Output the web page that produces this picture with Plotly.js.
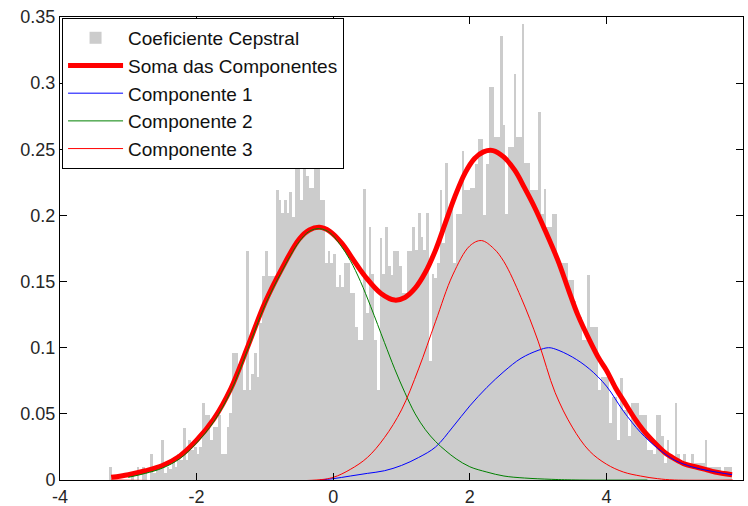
<!DOCTYPE html>
<html>
<head>
<meta charset="utf-8">
<script src="https://cdn.plot.ly/plotly-3.0.1.min.js"></script>
<style>html,body{margin:0;padding:0;background:#fff;}#chart{width:748px;height:506px;}</style>
</head>
<body>
<div id="chart"></div>
<script>
// Histogram: bins of width 0.04 starting at -3.28
const binStart = -3.28;
const binWidth = 0.04;
const histValues = [
  0.010,0,0,0,0,0,0,0,0.005,0,
  0.010,0,0.010,0.005,0,0.020,0.005,0.010,0.010,0.030,
  0.005,0.010,0.008,0.015,0.010,0.020,0.015,0.039,0.015,0.030,
  0.023,0.025,0.020,0.025,0.058,0.049,0.049,0.030,0.040,0.040,
  0.049,0.020,0.020,0.040,0.051,0.096,0.096,0.088,0.088,0.068,
  0.173,0.068,0.080,0.096,0.078,0.119,0.154,0.173,0.154,0.154,
  0.154,0.219,0.212,0.202,0.212,0.202,0.218,0.199,0.240,0.255,
  0.212,0.262,0.230,0.221,0.221,0.250,0.270,0.212,0.212,0.164,
  0.173,0.164,0.171,0.146,0.155,0.146,0.164,0.164,0.141,0.141,
  0.116,0.106,0.106,0.220,0.126,0.191,0.156,0.106,0.068,0.183,
  0.156,0.191,0.162,0.155,0.173,0.173,0.162,0.141,0.141,0.173,
  0.173,0.191,0.174,0.202,0.184,0.174,0.202,0.090,0.156,0.153,
  0.164,0.219,0.179,0.240,0.204,0.207,0.164,0.201,0.201,0.249,
  0.219,0.219,0.221,0.221,0.239,0.258,0.258,0.200,0.239,0.297,
  0.297,0.259,0.259,0.336,0.268,0.201,0.252,0.252,0.307,0.259,
  0.259,0.345,0.240,0.240,0.219,0.219,0.219,0.278,0.201,0.220,
  0.191,0.191,0.201,0.201,0.164,0.164,0.164,0.164,0.151,0.151,
  0.135,0.123,0.123,0.106,0.106,0.155,0.116,0.116,0.116,0.068,
  0.078,0.078,0.078,0.043,0.063,0.063,0.030,0.077,0.053,0.053,
  0.033,0.058,0.058,0.058,0.049,0.049,0.049,0.023,0.023,0.020,
  0.049,0.049,0.033,0.013,0.030,0.018,0.018,0.058,0.020,0.013,
  0.020,0.013,0.010,0.020,0.013,0.013,0.013,0.013,0.030,0.010,
  0.010,0.010,0.010,0.010,0.005,0.010,0.010,0.010
];

// Sum of components (thick red)
const sumX = [-3.25,-3.0,-2.75,-2.5,-2.25,-2.0,-1.75,-1.5,-1.25,-1.0,-0.75,-0.5,-0.35,-0.2,-0.05,0.125,0.3,0.466,0.7,0.9,1.05,1.2,1.35,1.5,1.64,1.78,1.93,2.07,2.2,2.34,2.5,2.66,2.8,2.95,3.1,3.29,3.45,3.58,3.75,3.9,4.0,4.13,4.25,4.42,4.55,4.71,4.85,5.0,5.15,5.3,5.45,5.59,5.84];
const sumY = [0.002,0.004,0.007,0.011,0.018,0.030,0.046,0.069,0.101,0.134,0.160,0.182,0.189,0.191,0.188,0.179,0.166,0.154,0.141,0.136,0.138,0.145,0.157,0.174,0.194,0.214,0.232,0.243,0.248,0.249,0.244,0.234,0.221,0.206,0.189,0.166,0.143,0.125,0.106,0.091,0.083,0.070,0.060,0.046,0.037,0.028,0.021,0.016,0.012,0.010,0.008,0.006,0.004];

// Componente 1 (blue)
const c1X = [-0.2,0.0,0.25,0.5,0.75,1.0,1.25,1.5,1.75,2.0,2.25,2.5,2.75,3.0,3.15,3.25,3.5,3.75,4.0,4.25,4.5,4.75,5.0,5.25,5.5,5.84];
const c1Y = [0.0,0.001,0.003,0.005,0.007,0.011,0.017,0.025,0.040,0.056,0.070,0.082,0.092,0.098,0.100,0.099,0.093,0.084,0.071,0.052,0.036,0.024,0.015,0.010,0.007,0.004];

// Componente 2 (green)
const c2X = [-3.0,-2.75,-2.5,-2.25,-2.0,-1.75,-1.5,-1.25,-1.0,-0.75,-0.5,-0.35,-0.2,-0.05,0.1,0.25,0.4,0.55,0.75,0.9,1.05,1.2,1.35,1.5,1.65,1.8,2.0,2.25,2.5,2.8,3.2,3.6,4.6];
const c2Y = [0.002,0.005,0.009,0.016,0.028,0.044,0.067,0.099,0.132,0.158,0.180,0.188,0.190,0.187,0.178,0.166,0.150,0.131,0.104,0.084,0.066,0.050,0.038,0.029,0.022,0.016,0.010,0.006,0.003,0.0015,0.0005,0.0,0.0];

// Componente 3 (thin red)
const c3X = [-3.25,-0.25,0.0,0.25,0.5,0.75,1.0,1.25,1.5,1.75,2.0,2.17,2.35,2.5,2.75,3.0,3.25,3.5,3.75,4.0,4.25,4.5,4.75,5.0,5.85];
const c3Y = [0.0,0.0,0.002,0.008,0.017,0.032,0.053,0.084,0.120,0.155,0.177,0.181,0.175,0.165,0.138,0.105,0.066,0.040,0.022,0.012,0.006,0.003,0.001,0.0,0.0];

const xTickVals = [-4,-2,0,2,4,6];
const xTickText = ['-4','-2','0','2','4','6'];
const yTickVals = [0,0.05,0.1,0.15,0.2,0.25,0.3,0.35];
const yTickText = ['0','0.05','0.1','0.15','0.2','0.25','0.3','0.35'];

const names = ['Coeficiente Cepstral','Soma das Componentes','Componente 1','Componente 2','Componente 3'];

const binCenters = histValues.map((v,i)=> binStart + binWidth*(i+0.5));

const traces = [
  {type:'bar', x:binCenters, y:histValues, width:binWidth, name:names[0],
   marker:{color:'#cccccc', line:{width:0}}},
  {type:'scatter', mode:'lines', x:sumX, y:sumY, name:names[1],
   line:{color:'#ff0000', width:5, shape:'spline', smoothing:1}},
  {type:'scatter', mode:'lines', x:c1X, y:c1Y, name:names[2],
   line:{color:'#0000ff', width:1, shape:'spline', smoothing:1}},
  {type:'scatter', mode:'lines', x:c2X, y:c2Y, name:names[3],
   line:{color:'#008000', width:1, shape:'spline', smoothing:1}},
  {type:'scatter', mode:'lines', x:c3X, y:c3Y, name:names[4],
   line:{color:'#ff0000', width:1, shape:'spline', smoothing:1}}
];

const axisFont = {family:'"Liberation Sans", Arial, sans-serif', size:18, color:'#262626'};

const layout = {
  width:748, height:506,
  margin:{l:60, r:5, t:17, b:26, pad:0},
  paper_bgcolor:'#ffffff', plot_bgcolor:'#ffffff',
  bargap:0,
  showlegend:true,
  legend:{x:0.003, y:0.998, xanchor:'left', yanchor:'top',
    bgcolor:'#ffffff', bordercolor:'#000000', borderwidth:1,
    font:{family:'"Liberation Sans", Arial, sans-serif', size:19, color:'#111111'},
    itemwidth:55, entrywidth:290, entrywidthmode:'pixels', traceorder:'normal'},
  xaxis:{range:[-4,6], tickvals:xTickVals, ticktext:xTickText,
    ticks:'inside', ticklen:7, tickcolor:'#000', tickwidth:1,
    showline:true, linecolor:'#000', linewidth:1, mirror:'ticks',
    showgrid:false, zeroline:false, tickfont:axisFont},
  yaxis:{range:[0,0.35], tickvals:yTickVals, ticktext:yTickText,
    ticks:'inside', ticklen:7, tickcolor:'#000', tickwidth:1,
    showline:true, linecolor:'#000', linewidth:1, mirror:'ticks',
    showgrid:false, zeroline:false, tickfont:axisFont}
};

Plotly.newPlot('chart', traces, layout, {staticPlot:true, displayModeBar:false});
</script>
</body>
</html>
